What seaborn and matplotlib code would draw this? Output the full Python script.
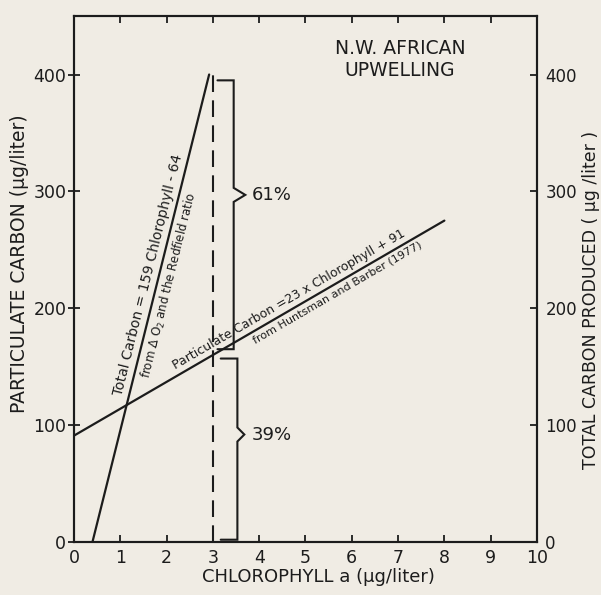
import numpy as np
import pandas as pd
import matplotlib
matplotlib.use("Agg")
import matplotlib.pyplot as plt
import seaborn as sns

# ---- data ----
chl_ticks = [0, 1, 2, 3, 4, 5, 6, 7, 8, 9, 10]
carbon_ticks = [0, 100, 200, 300, 400]
particulate_chl = [0.0, 8.0]
particulate_c = [91, 275]
total_chl = [0.40, 2.92]
total_c = [0, 400]
ref_chl = 3.0
ref_top = 400
brace_top = [395, 157]
brace_bottom = [165, 2]
brace_tip = [297, 92]
brace_labels = ["61%", "39%"]

BG = "#f0ece4"
INK = "#1c1c1c"

sns.set_theme(style="ticks")
plt.rcParams["font.family"] = ["DejaVu Sans"]
plt.rcParams["text.color"] = INK
plt.rcParams["axes.labelcolor"] = INK
plt.rcParams["xtick.color"] = INK
plt.rcParams["ytick.color"] = INK
plt.rcParams["mathtext.fontset"] = "dejavusans"

fig = plt.figure(figsize=(6.01, 5.95), dpi=100, facecolor=BG)
ax = fig.add_axes([0.123, 0.089, 0.7705, 0.884])
ax.set_facecolor(BG)

df_part = pd.DataFrame({"chl": particulate_chl, "carbon": particulate_c})
df_tot = pd.DataFrame({"chl": total_chl, "carbon": total_c})
sns.lineplot(data=df_part, x="chl", y="carbon", ax=ax, color=INK, lw=1.6,
             sort=False, estimator=None)
sns.lineplot(data=df_tot, x="chl", y="carbon", ax=ax, color=INK, lw=1.6,
             sort=False, estimator=None)
ax.plot([ref_chl, ref_chl], [0, ref_top], color=INK, lw=1.5,
        linestyle=(0, (8, 4)))

ax.set_xlim(0, 10)
ax.set_ylim(0, 450)

# braces
x0_off = [0.10, 0.17]
xv_off = [0.45, 0.53]
xt_off = [0.70, 0.68]
d = 6
for i in range(2):
    x0 = ref_chl + x0_off[i]
    xv = ref_chl + xv_off[i]
    xt = ref_chl + xt_off[i]
    top, bot, tip = brace_top[i], brace_bottom[i], brace_tip[i]
    xs = [x0, xv, xv, xt, xv, xv, x0]
    ys = [top, top, tip + d, tip, tip - d, bot, bot]
    ax.plot(xs, ys, color=INK, lw=1.5, solid_joinstyle="miter")
    ax.text(xt + 0.15, tip, brace_labels[i], fontsize=13, ha="left",
            va="center")

# text along lines
def angle_of(xa, ya, xb, yb):
    p0 = ax.transData.transform((xa, ya))
    p1 = ax.transData.transform((xb, yb))
    return np.degrees(np.arctan2(p1[1] - p0[1], p1[0] - p0[0]))

def along(text, xs, ys, frac_y=None, frac_x=None, side=1, gap=2.5, size=8.5):
    if frac_y is not None:
        yc = frac_y
        xc = np.interp(yc, ys, xs)
    else:
        xc = frac_x
        yc = np.interp(xc, xs, ys)
    a = angle_of(xs[0], ys[0], xs[-1], ys[-1])
    r = np.radians(a)
    nx, ny = -np.sin(r) * gap * side, np.cos(r) * gap * side
    ax.annotate(text, xy=(xc, yc), xytext=(nx, ny), textcoords="offset points",
                rotation=a, rotation_mode="anchor", ha="center",
                va="bottom" if side > 0 else "top", fontsize=size)

along("Total Carbon = 159 Chlorophyll - 64", total_chl, total_c,
      frac_y=226, side=1, gap=2.5, size=10)
along(r"from $\Delta$ O$_2$ and the Redfield ratio", total_chl, total_c,
      frac_y=222, side=-1, gap=3, size=8.5)
along("Particulate Carbon =23 x Chlorophyll + 91", particulate_chl,
      particulate_c, frac_x=4.75, side=1, gap=2, size=9)
along("from Huntsman and Barber (1977)", particulate_chl, particulate_c,
      frac_x=5.6, side=-1, gap=2.5, size=8)

ax.text(0.704, 0.918, "N.W. AFRICAN\nUPWELLING", transform=ax.transAxes,
        ha="center", va="center", fontsize=13.5, linespacing=1.2)

# axes styling
for s in ax.spines.values():
    s.set_color(INK)
    s.set_linewidth(1.5)
ax.set_xticks(chl_ticks)
ax.set_xticklabels([str(t) for t in chl_ticks])
ax.set_yticks(carbon_ticks)
ax.set_yticklabels([str(t) for t in carbon_ticks])
ax.tick_params(axis="x", direction="in", length=5, width=1.3, top=True,
               labelsize=12.5, pad=5)
ax.tick_params(axis="y", direction="inout", length=9, width=1.3,
               labelsize=12.5, pad=1)
ax.set_xlabel("CHLOROPHYLL a (μg/liter)", fontsize=13, va="center",
              ha="center")
ax.xaxis.set_label_coords(0.527, -0.067)
ax.set_ylabel("PARTICULATE CARBON (μg/liter)", fontsize=13.5, va="center",
              ha="center")
ax.yaxis.set_label_coords(-0.117, 0.53)

ax2 = ax.twinx()
ax2.set_ylim(0, 450)
ax2.set_yticks(carbon_ticks)
ax2.set_yticklabels([str(t) for t in carbon_ticks])
ax2.tick_params(axis="y", direction="in", length=5, width=1.3,
                labelsize=12, pad=6)
for s in ax2.spines.values():
    s.set_color(INK)
    s.set_linewidth(1.5)
ax2.set_ylabel("TOTAL CARBON PRODUCED ( μg /liter )", fontsize=12.5,
               va="center", ha="center", rotation=90)
ax2.yaxis.set_label_coords(1.117, 0.46)

fig.savefig("out.png", dpi=100, facecolor=BG)
